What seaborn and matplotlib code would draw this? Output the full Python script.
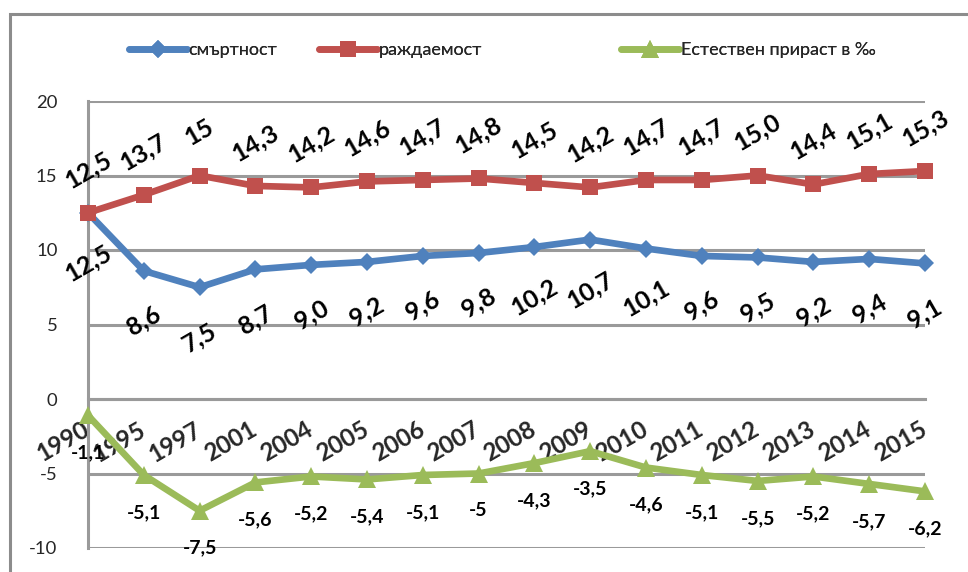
#!/usr/bin/env python3
# -*- coding: utf-8 -*-
"""
Раждаемост, смъртност и естествен прираст (‰), 1990 - 2015
"""

import pandas as pd
import matplotlib
matplotlib.use('Agg')
import matplotlib.pyplot as plt
import matplotlib.transforms as mtransforms
from matplotlib.lines import Line2D
from matplotlib.patches import Rectangle
import seaborn as sns

# Данни
years = ['1990', '1995', '1997', '2001', '2004', '2005', '2006', '2007',
         '2008', '2009', '2010', '2011', '2012', '2013', '2014', '2015']
mortality = [12.5, 8.6, 7.5, 8.7, 9.0, 9.2, 9.6, 9.8,
             10.2, 10.7, 10.1, 9.6, 9.5, 9.2, 9.4, 9.1]
births = [12.5, 13.7, 15, 14.3, 14.2, 14.6, 14.7, 14.8,
          14.5, 14.2, 14.7, 14.7, 15.0, 14.4, 15.1, 15.3]
growth = [-1.1, -5.1, -7.5, -5.6, -5.2, -5.4, -5.1, -5,
          -4.3, -3.5, -4.6, -5.1, -5.5, -5.2, -5.7, -6.2]

mortality_labels = ['12,5', '8,6', '7,5', '8,7', '9,0', '9,2', '9,6', '9,8',
                    '10,2', '10,7', '10,1', '9,6', '9,5', '9,2', '9,4', '9,1']
births_labels = ['12,5', '13,7', '15', '14,3', '14,2', '14,6', '14,7', '14,8',
                 '14,5', '14,2', '14,7', '14,7', '15,0', '14,4', '15,1', '15,3']
growth_labels = ['-1,1', '-5,1', '-7,5', '-5,6', '-5,2', '-5,4', '-5,1', '-5',
                 '-4,3', '-3,5', '-4,6', '-5,1', '-5,5', '-5,2', '-5,7', '-6,2']

y_ticks = [-10, -5, 0, 5, 10, 15, 20]
y_tick_labels = ['-10', '-5', '0', '5', '10', '15', '20']

legend_names = ['смъртност', 'раждаемост', 'Естествен прираст в ‰']

# Стил
sns.set_theme(style='white')
plt.rcParams['font.family'] = ['Lato', 'Open Sans', 'DejaVu Sans']
plt.rcParams['axes.unicode_minus'] = False

BLUE = '#4F81BD'
RED = '#C0504D'
GREEN = '#9BBB59'
GRID = '#9A9A9A'


def build_frame():
    """Таблица за seaborn"""
    df = pd.DataFrame({'x': range(len(years)),
                       'mortality': mortality,
                       'births': births,
                       'growth': growth})
    return df


def main():
    df = build_frame()

    fig = plt.figure(figsize=(9.68, 5.72), dpi=100)
    W, H = 968, 572
    ax = fig.add_axes([88 / W, 1 - 548 / H, (925 - 88) / W, (548 - 101) / H])

    # рамка около цялата диаграма
    fig.patches.append(Rectangle((10 / W, -0.1), 1.1, 1 - 14 / H + 0.1,
                                 transform=fig.transFigure, fill=False,
                                 edgecolor='#8C8C8C', linewidth=2.2))

    # мрежа
    ax.set_ylim(-10, 20)
    ax.set_xlim(0, 15)
    ax.set_yticks(y_ticks)
    ax.set_yticklabels(y_tick_labels)
    ax.yaxis.grid(True, color=GRID, linewidth=2.2)
    ax.set_axisbelow(True)

    # линии
    series = [('mortality', BLUE, 'D', 9), ('births', RED, 's', 11.5),
              ('growth', GREEN, '^', 12.5)]
    for col, color, marker, ms in series:
        sns.lineplot(data=df, x='x', y=col, ax=ax, color=color, linewidth=4.8,
                     marker=marker, markersize=ms, markeredgewidth=0,
                     zorder=3, clip_on=False)

    # етикети на данните
    for i in range(len(years)):
        ax.annotate(births_labels[i], (i, births[i]), xytext=(0, 31),
                    textcoords='offset points', ha='center', va='center',
                    rotation=30, fontsize=18, fontweight='bold', color='black')
        ax.annotate(mortality_labels[i], (i, mortality[i]), xytext=(0, -36),
                    textcoords='offset points', ha='center', va='center',
                    rotation=30, fontsize=18, fontweight='bold', color='black')
        ax.annotate(growth_labels[i], (i, growth[i]), xytext=(0, -27),
                    textcoords='offset points', ha='center', va='center',
                    fontsize=14, fontweight='bold', color='black')

    # оси
    for side in ['top', 'right']:
        ax.spines[side].set_visible(False)
    ax.spines['left'].set_color(GRID)
    ax.spines['left'].set_linewidth(2.2)
    ax.spines['bottom'].set_position(('data', 0))
    ax.spines['bottom'].set_color(GRID)
    ax.spines['bottom'].set_linewidth(2.2)

    ax.set_xticks(range(len(years)))
    ax.set_xticklabels(years)
    ax.tick_params(axis='x', direction='out', length=6, width=2.2, color=GRID,
                   pad=9, labelsize=17.5)
    ax.tick_params(axis='y', direction='out', length=6, width=2.2, color=GRID,
                   pad=16, labelsize=13.3)
    shift = mtransforms.ScaledTranslation(-6 / 100, 2 / 100, fig.dpi_scale_trans)
    for lbl in ax.get_xticklabels():
        lbl.set_rotation(30)
        lbl.set_ha('right')
        lbl.set_va('top')
        lbl.set_rotation_mode('anchor')
        lbl.set_fontweight('bold')
        lbl.set_transform(lbl.get_transform() + shift)
    ax.set_xlabel('')
    ax.set_ylabel('')

    # легенда - три отделни елемента
    handles = [Line2D([], [], color=BLUE, lw=4.8, marker='D', ms=9, mew=0),
               Line2D([], [], color=RED, lw=4.8, marker='s', ms=11.5, mew=0),
               Line2D([], [], color=GREEN, lw=4.8, marker='^', ms=12.5, mew=0)]
    x_pos = [129, 319, 621]
    for h, name, xp in zip(handles, legend_names, x_pos):
        leg = fig.legend([h], [name], loc='center left',
                         bbox_to_anchor=(xp / W, 1 - 50 / H), frameon=False,
                         fontsize=13, handlelength=3.2, handletextpad=0.1,
                         borderaxespad=0, borderpad=0)
        fig.add_artist(leg)

    fig.savefig('out.png', dpi=100)


if __name__ == '__main__':
    main()
